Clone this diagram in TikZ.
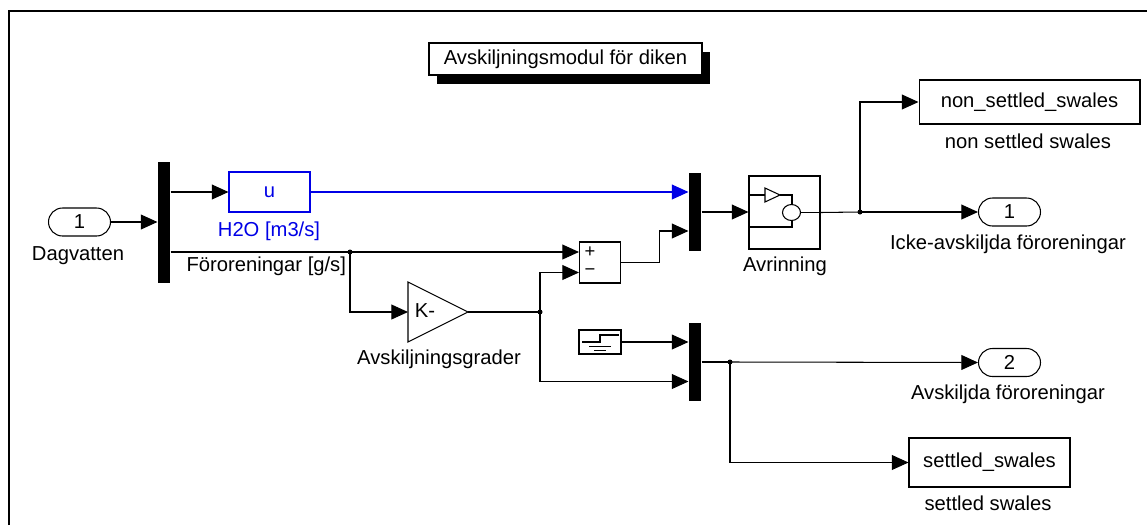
\documentclass[tikz,border=0pt]{standalone}
\usepackage{fontspec}
\setmainfont{Liberation Sans}
\usepackage{xcolor}
\usetikzlibrary{arrows.meta,positioning,shadows}

\definecolor{simblue}{RGB}{0,0,230}
\newcommand{\lblfont}{\fontsize{11.5}{13}\selectfont}
\tikzset{
  sig/.style={-{Triangle[length=9.5pt,width=8.5pt]}},
  busbar/.style={fill=black, inner sep=0pt, minimum width=2.4mm, minimum height=15.6mm},
  blk/.style={draw, inner sep=0pt, font=\lblfont},
  portbox/.style={draw, rounded corners=2.8mm, minimum width=12.4mm, minimum height=5.6mm, inner sep=0pt, font=\lblfont},
  lbl/.style={inner sep=0pt, font=\lblfont, anchor=base},
}

\begin{document}
\begin{tikzpicture}[x=0.02cm, y=-0.02cm, line width=0.6pt]
    \useasboundingbox (0,0) rectangle (1147,525);
    \draw (9,525) -- (9,11) -- (1147,11);

    % title
    \node[blk, fill=white, line width=0.8pt, minimum width=54.6mm, minimum height=6.4mm,
          drop shadow={fill=black, opacity=1, shadow xshift=1.6mm, shadow yshift=-1.8mm}]
          (title) at (565.5,59) {Avskiljningsmodul för diken};

    % blocks
    \node[portbox] (in1) at (79.5,222) {1};
    \node[busbar, minimum height=24.2mm] (demux) at (164,222.5) {};
    \node[blk, draw=simblue, text=simblue, minimum width=16.2mm, minimum height=8mm] (hto) at (269.5,192) {u};
    \node[blk, minimum width=8.2mm, minimum height=8.2mm] (sumblk) at (600,262.5) {};
    \node[font=\fontsize{10.5}{12}\selectfont, inner sep=0pt] (plus) at (590,252) {+};
    \node[font=\fontsize{10.5}{12}\selectfont, inner sep=0pt] (minus) at (590,272) {−};
    \draw (408,282) -- (468,312) -- (408,342) -- cycle;
    \coordinate (gin) at (408,312);
    \coordinate (gout) at (468,312);
    \node[font=\lblfont, inner sep=0pt] (kgain) at (425,311) {K-};
    \node[busbar] (mux1) at (695,212) {};
    \node[busbar] (mux2) at (695,362) {};
    \node[blk, minimum width=8.4mm, minimum height=4.8mm] (gnd) at (600,342) {};
    \draw (582,342) -- (600,342) -- (600,335) -- (619,335);
    \draw (589,346.5) -- (611,346.5);
    \draw (594,350.5) -- (606,350.5);
    \node[blk, minimum width=14.2mm, minimum height=14.6mm] (avr) at (784.5,212.5) {};
    \draw (749,195) -- (765,195);
    \draw (765,188) -- (780,195) -- (765,202) -- cycle;
    \draw (780,195) -- (792,195) -- (792,204.5);
    \draw (791.5,212.5) ellipse [x radius=1.8mm, y radius=1.6mm];
    \draw (749,227) -- (792,227) -- (792,220.5);
    \draw (800.5,212.5) -- (820,212.5);
    \node[portbox] (out1) at (1009.5,212) {1};
    \node[portbox] (out2) at (1009.5,362.5) {2};
    \node[blk, minimum width=44.2mm, minimum height=8.8mm] (nsbox) at (1029.5,102) {non\_settled\_swales};
    \node[blk, minimum width=32.2mm, minimum height=9.8mm] (sbox) at (989.5,462.5) {settled\_swales};

    % labels
    \node[lbl] (in1lbl) at (78,260) {Dagvatten};
    \node[lbl, text=simblue] (htolbl) at (269,236) {H2O [m3/s]};
    \node[lbl, anchor=base west] (forlbl) at (186,271) {Föroreningar [g/s]};
    \node[lbl] (gainlbl) at (439,364) {Avskiljningsgrader};
    \node[lbl] (avrlbl) at (785,271) {Avrinning};
    \node[lbl] (nslbl) at (1028,148) {non settled swales};
    \node[lbl] (out1lbl) at (1008,249) {Icke-avskiljda föroreningar};
    \node[lbl] (out2lbl) at (1008,399) {Avskiljda föroreningar};
    \node[lbl] (slbl) at (988,510) {settled swales};

    % branch points
    \coordinate (br1) at (350,252);
    \coordinate (br2) at (540,312);
    \coordinate (br3) at (860,212);
    \coordinate (br4) at (730,362);

    % signals
    \draw[sig] (in1.east) -- (in1.east -| demux.west);
    \draw[sig] (demux.east |- hto.west) -- (hto.west);
    \draw[sig, simblue] (hto.east) -- (hto.east -| mux1.west);
    \draw (demux.east |- br1) -- (br1);
    \draw[sig] (br1) -- (br1 -| sumblk.west);
    \draw[sig] (br1) |- (gin);
    \draw (gout) -- (br2);
    \draw[sig] (br2) |- ([yshift=-2mm]sumblk.west);
    \draw[sig] (br2) |- ([yshift=-3.9mm]mux2.west);
    \draw[sig] (sumblk.east) -- ++(38,0) |- ([yshift=-3.8mm]mux1.west);
    \draw[sig] (gnd.east) -- (gnd.east -| mux2.west);
    \draw[sig] (mux1.east) -- (mux1.east -| avr.west);
    \draw (avr.east) -- (br3);
    \draw[sig] (br3) -- (out1.west);
    \draw[sig] (br3) |- (nsbox.west);
    \draw (mux2.east) -- (br4);
    \draw[sig] (br4) -- (out2.west);
    \draw[sig] (br4) |- (sbox.west);
    \foreach \b in {br1,br2,br3,br4}
        \fill (\b) circle (0.5mm);
\end{tikzpicture}
\end{document}
